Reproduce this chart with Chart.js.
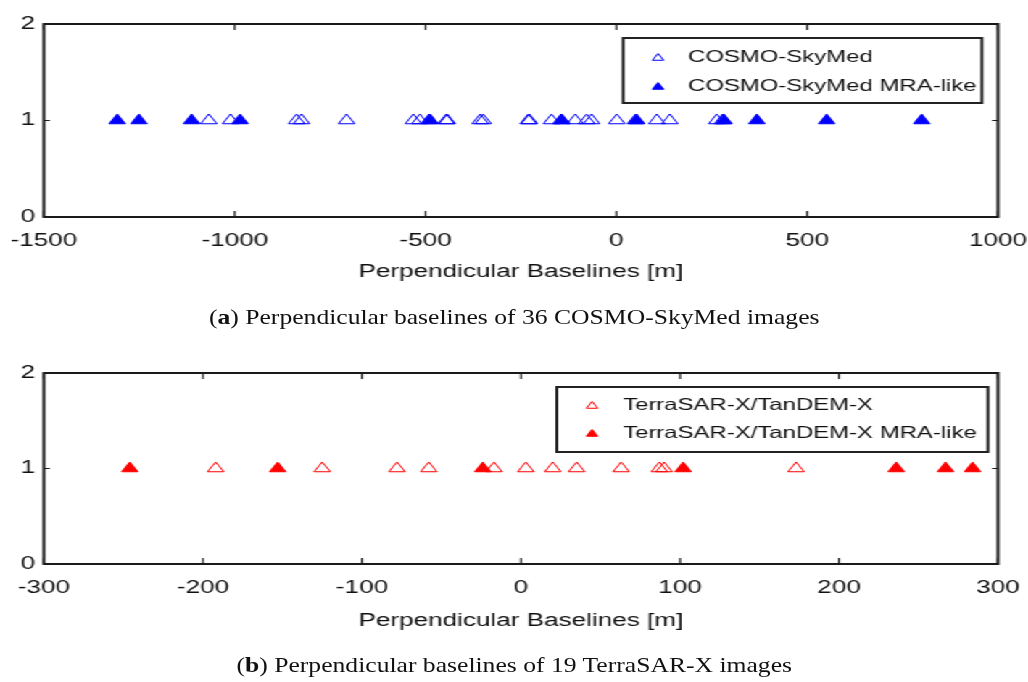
<!DOCTYPE html>
<html>
<head>
<meta charset="utf-8">
<script src="https://cdn.jsdelivr.net/npm/chart.js@4.4.0/dist/chart.umd.min.js"></script>
<style>
html, body { margin: 0; padding: 0; background: #fff; }
/* the figure is stretched sideways, so draw narrow and scale */
#page { position: absolute; left: 0; top: 0; width: 709px; height: 682px; transform: scaleX(1.45); transform-origin: 0 0; }
canvas { position: absolute; left: 0; }
#c1 { top: 0; }
#c2 { top: 349px; }
.cap { position: absolute; left: 0; width: 843px; text-align: center; font-family: "Liberation Serif", serif; font-size: 21px; color: #111;
       transform: scaleX(1.22); transform-origin: 0 0; }
</style>
</head>
<body>
<div id="page">
  <canvas id="c1" width="709" height="300"></canvas>
  <canvas id="c2" width="709" height="300"></canvas>
</div>
<div class="cap" style="top:305px">(<b>a</b>) Perpendicular baselines of 36 COSMO-SkyMed images</div>
<div class="cap" style="top:653px">(<b>b</b>) Perpendicular baselines of 19 TerraSAR-X images</div>
<script>
// datos (baselines perpendiculares en metros)
const cskLabels = ["COSMO-SkyMed", "COSMO-SkyMed MRA-like"];
const cskAll = [-1068, -1011, -838, -825, -707, -532, -515, -446, -443, -491, -357, -349, -231, -228,
  -170, -145, -108, -78, -65, 1, 50, 106, 140, 263, 278];
const cskMra = [-1308, -1251, -1113, -986, -488, -143, 53, 282, 368, 551, 800];
const cskTicks = { min: -1500, max: 1000, step: 500 };

const tsxLabels = ["TerraSAR-X/TanDEM-X", "TerraSAR-X/TanDEM-X MRA-like"];
const tsxAll = [-192, -125, -78, -58, -17, 3, 20, 35, 63, 87, 90, 173];
const tsxMra = [-246, -153, -24, 102, 236, 267, 284];
const tsxTicks = { min: -300, max: 300, step: 100 };

const yTicks = { min: 0, max: 2, step: 1 };
const axisTitle = "Perpendicular Baselines [m]";

const STRETCH = 1.45;
const SANS = "'Liberation Sans', Arial, sans-serif";

function pts(arr) {
    return arr.map((v) => ({ x: v, y: 1 }));
}

// marco y ticks hacia dentro (estilo matlab)
const frameTicks = {
    id: "frameTicks",
    afterDatasetsDraw(chart) {
        const { ctx, chartArea: a, scales } = chart;
        ctx.save();
        ctx.strokeStyle = "#1a1a1a";
        ctx.lineWidth = 1.2;
        const t = 6;
        scales.x.ticks.forEach((tk) => {
            const px = scales.x.getPixelForValue(tk.value);
            ctx.beginPath();
            ctx.moveTo(px, a.bottom);
            ctx.lineTo(px, a.bottom - t);
            ctx.moveTo(px, a.top);
            ctx.lineTo(px, a.top + t);
            ctx.stroke();
        });
        scales.y.ticks.forEach((tk) => {
            const py = scales.y.getPixelForValue(tk.value);
            ctx.beginPath();
            ctx.moveTo(a.left, py);
            ctx.lineTo(a.left + t / STRETCH, py);
            ctx.moveTo(a.right, py);
            ctx.lineTo(a.right - t / STRETCH, py);
            ctx.stroke();
        });
        ctx.lineWidth = 2;
        ctx.strokeRect(a.left, a.top, a.right - a.left, a.bottom - a.top);
        ctx.restore();
    },
};

// leyenda con caja
const boxLegend = {
    id: "boxLegend",
    afterDraw(chart, args, o) {
        const ctx = chart.ctx;
        ctx.save();
        ctx.fillStyle = "#fff";
        ctx.fillRect(o.x, o.y, o.w, o.h);
        ctx.strokeStyle = "#222";
        ctx.lineWidth = 2;
        ctx.strokeRect(o.x, o.y, o.w, o.h);
        chart.data.datasets.forEach((ds, i) => {
            const y = o.rows[i];
            ctx.fillStyle = ds.backgroundColor;
            ctx.strokeStyle = ds.borderColor;
            ctx.lineWidth = 1;
            Chart.helpers.drawPoint(ctx, { pointStyle: "triangle", radius: 4.5, rotation: 0, borderWidth: 1 }, o.markX, y + 1);
            ctx.fillStyle = "#111";
            ctx.font = "16.5px " + SANS;
            ctx.textBaseline = "middle";
            ctx.textAlign = "left";
            ctx.fillText(ds.label, o.textX, y);
        });
        ctx.restore();
    },
};

function makeChart(id, labels, openVals, fullVals, color, xt, area, legend) {
    const H = 300;
    return new Chart(document.getElementById(id), {
        type: "scatter",
        data: {
            datasets: [
                {
                    label: labels[0],
                    data: pts(openVals),
                    pointStyle: "triangle",
                    pointRadius: 6.5,
                    pointHoverRadius: 6.5,
                    backgroundColor: "rgba(255,255,255,0)",
                    borderColor: color,
                    borderWidth: 1,
                },
                {
                    label: labels[1],
                    data: pts(fullVals),
                    pointStyle: "triangle",
                    pointRadius: 6.5,
                    pointHoverRadius: 6.5,
                    backgroundColor: color,
                    borderColor: color,
                    borderWidth: 1,
                },
            ],
        },
        options: {
            responsive: false,
            animation: false,
            layout: { padding: { top: area.top, right: 709 - area.right, left: 0, bottom: 0 } },
            plugins: {
                legend: { display: false },
                tooltip: { enabled: false },
                boxLegend: legend,
            },
            scales: {
                x: {
                    type: "linear",
                    min: xt.min,
                    max: xt.max,
                    afterFit: (s) => {
                        s.height = H - area.bottom;
                        s.paddingLeft = 0;
                        s.paddingRight = 0;
                    },
                    grid: { display: false, drawTicks: false },
                    border: { display: false },
                    ticks: {
                        stepSize: xt.step,
                        color: "#111",
                        padding: 13,
                        maxRotation: 0,
                        autoSkip: false,
                        font: { family: SANS, size: 18 },
                        callback: (v) => String(v),
                    },
                    title: {
                        display: true,
                        text: axisTitle,
                        color: "#111",
                        font: { family: SANS, size: 18 },
                        padding: { top: 0, bottom: 17 },
                    },
                },
                y: {
                    type: "linear",
                    min: yTicks.min,
                    max: yTicks.max,
                    afterFit: (s) => {
                        s.width = area.left;
                        s.paddingTop = 0;
                        s.paddingBottom = 0;
                    },
                    grid: { display: false, drawTicks: false },
                    border: { display: false },
                    ticks: {
                        stepSize: yTicks.step,
                        color: "#111",
                        padding: 6,
                        font: { family: SANS, size: 18 },
                        callback: (v) => String(v),
                    },
                },
            },
        },
        plugins: [frameTicks, boxLegend],
    });
}

makeChart("c1", cskLabels, cskAll, cskMra, "#0000ff", cskTicks,
    { top: 24, bottom: 217, left: 30.3, right: 688.3 },
    { x: 429.7, y: 38, w: 247.5, h: 65, rows: [57, 86], markX: 453.8, textX: 474.5 });

makeChart("c2", tsxLabels, tsxAll, tsxMra, "#ff0000", tsxTicks,
    { top: 24, bottom: 215, left: 30.3, right: 688.3 },
    { x: 384, y: 38, w: 297.4, h: 65, rows: [56, 84], markX: 408.3, textX: 429.7 });
</script>
</body>
</html>
